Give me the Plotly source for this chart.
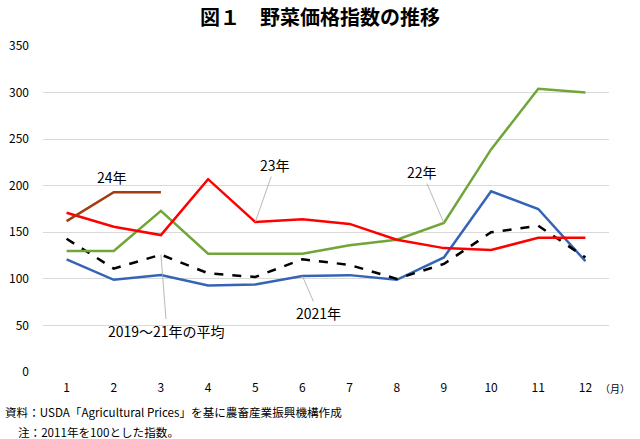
import plotly.graph_objects as go

months = list(range(1, 13))
month_labels = [str(m) for m in months]
y22 = [130, 130, 173, 127, 127, 127, 136, 142, 160, 239, 304, 300]
y23 = [171, 156, 147, 207, 161, 164, 159, 142, 133, 131, 144, 144]
y24 = [162, 193, 193]
y2021 = [121, 99, 104, 93, 94, 103, 104, 99, 123, 194, 175, 119]
yavg = [143, 111, 126, 106, 102, 121, 115, 100, 116, 150, 157, 123]
y_ticks = [0, 50, 100, 150, 200, 250, 300, 350]

FONT = "Noto Sans CJK JP"

fig = go.Figure()
fig.add_trace(go.Scatter(x=months, y=y2021, mode="lines", line=dict(color="#3563B5", width=2.5), name="2021年"))
fig.add_trace(go.Scatter(x=months, y=yavg, mode="lines", line=dict(color="#000000", width=2.5, dash="dash"), name="2019～21年の平均"))
fig.add_trace(go.Scatter(x=months, y=y22, mode="lines", line=dict(color="#6FA637", width=2.5), name="22年"))
fig.add_trace(go.Scatter(x=months, y=y23, mode="lines", line=dict(color="#FF0000", width=2.5), name="23年"))
fig.add_trace(go.Scatter(x=months[:3], y=y24, mode="lines", line=dict(color="#A33C12", width=2.5), name="24年"))

ann_common = dict(showarrow=True, arrowhead=0, arrowwidth=0.8, arrowcolor="#A6A6A6",
                  font=dict(family=FONT, size=14, color="#000"), xref="x", yref="y", axref="pixel", ayref="pixel")
annotations = [
    dict(x=5, y=y23[4], text="23年", ax=20, ay=-57, **ann_common),
    dict(x=9, y=y22[8], text="22年", ax=-22, ay=-51, **ann_common),
    dict(x=6, y=y2021[5], text="2021年", ax=16, ay=37, **ann_common),
    dict(x=3, y=yavg[2], text="2019～21年の平均", ax=6, ay=76, **ann_common),
    dict(x=2, y=y24[1], text="24年", showarrow=False, yshift=15, xshift=-2,
         font=dict(family=FONT, size=14, color="#000"), xref="x", yref="y"),
    dict(x=1.0, y=0, xref="paper", yref="paper", xanchor="left", yanchor="top",
         xshift=-11, yshift=-7, text="（月）", showarrow=False,
         font=dict(family=FONT, size=10, color="#000")),
    dict(x=0, y=0, xref="paper", yref="paper", xanchor="left", yanchor="top",
         xshift=-40, yshift=-30, showarrow=False, align="left",
         text="資料：USDA「Agricultural Prices」を基に農畜産業振興機構作成",
         font=dict(family=FONT, size=11.6, color="#000")),
    dict(x=0, y=0, xref="paper", yref="paper", xanchor="left", yanchor="top",
         xshift=-27, yshift=-50, showarrow=False, align="left",
         text="注：2011年を100とした指数。",
         font=dict(family=FONT, size=11.6, color="#000")),
]

fig.update_layout(
    width=640, height=439,
    margin=dict(l=43, r=31, t=46, b=67, autoexpand=False),
    paper_bgcolor="white", plot_bgcolor="white",
    showlegend=False,
    title=dict(text="<b>図１　野菜価格指数の推移</b>", x=0.5, xanchor="center", y=0.958, yanchor="middle",
               font=dict(family=FONT, size=20, color="#000")),
    font=dict(family=FONT, color="#000"),
    annotations=annotations,
)
fig.update_xaxes(range=[0.5, 12.5], tickmode="array", tickvals=months, ticktext=month_labels,
                 showgrid=False, showline=False, zeroline=False, ticks="", automargin=False,
                 tickfont=dict(family=FONT, size=12, color="#000"), ticklabelstandoff=7)
fig.update_yaxes(range=[0, 350], tickmode="array", tickvals=y_ticks, automargin=False,
                 showgrid=True, gridcolor="#D9D9D9", gridwidth=1, zeroline=False, showline=False, ticks="",
                 tickfont=dict(family=FONT, size=12, color="#000"), ticklabelstandoff=13)

fig.write_html("out.html", config={"displayModeBar": False},
               post_script="document.body.style.margin='0';")
